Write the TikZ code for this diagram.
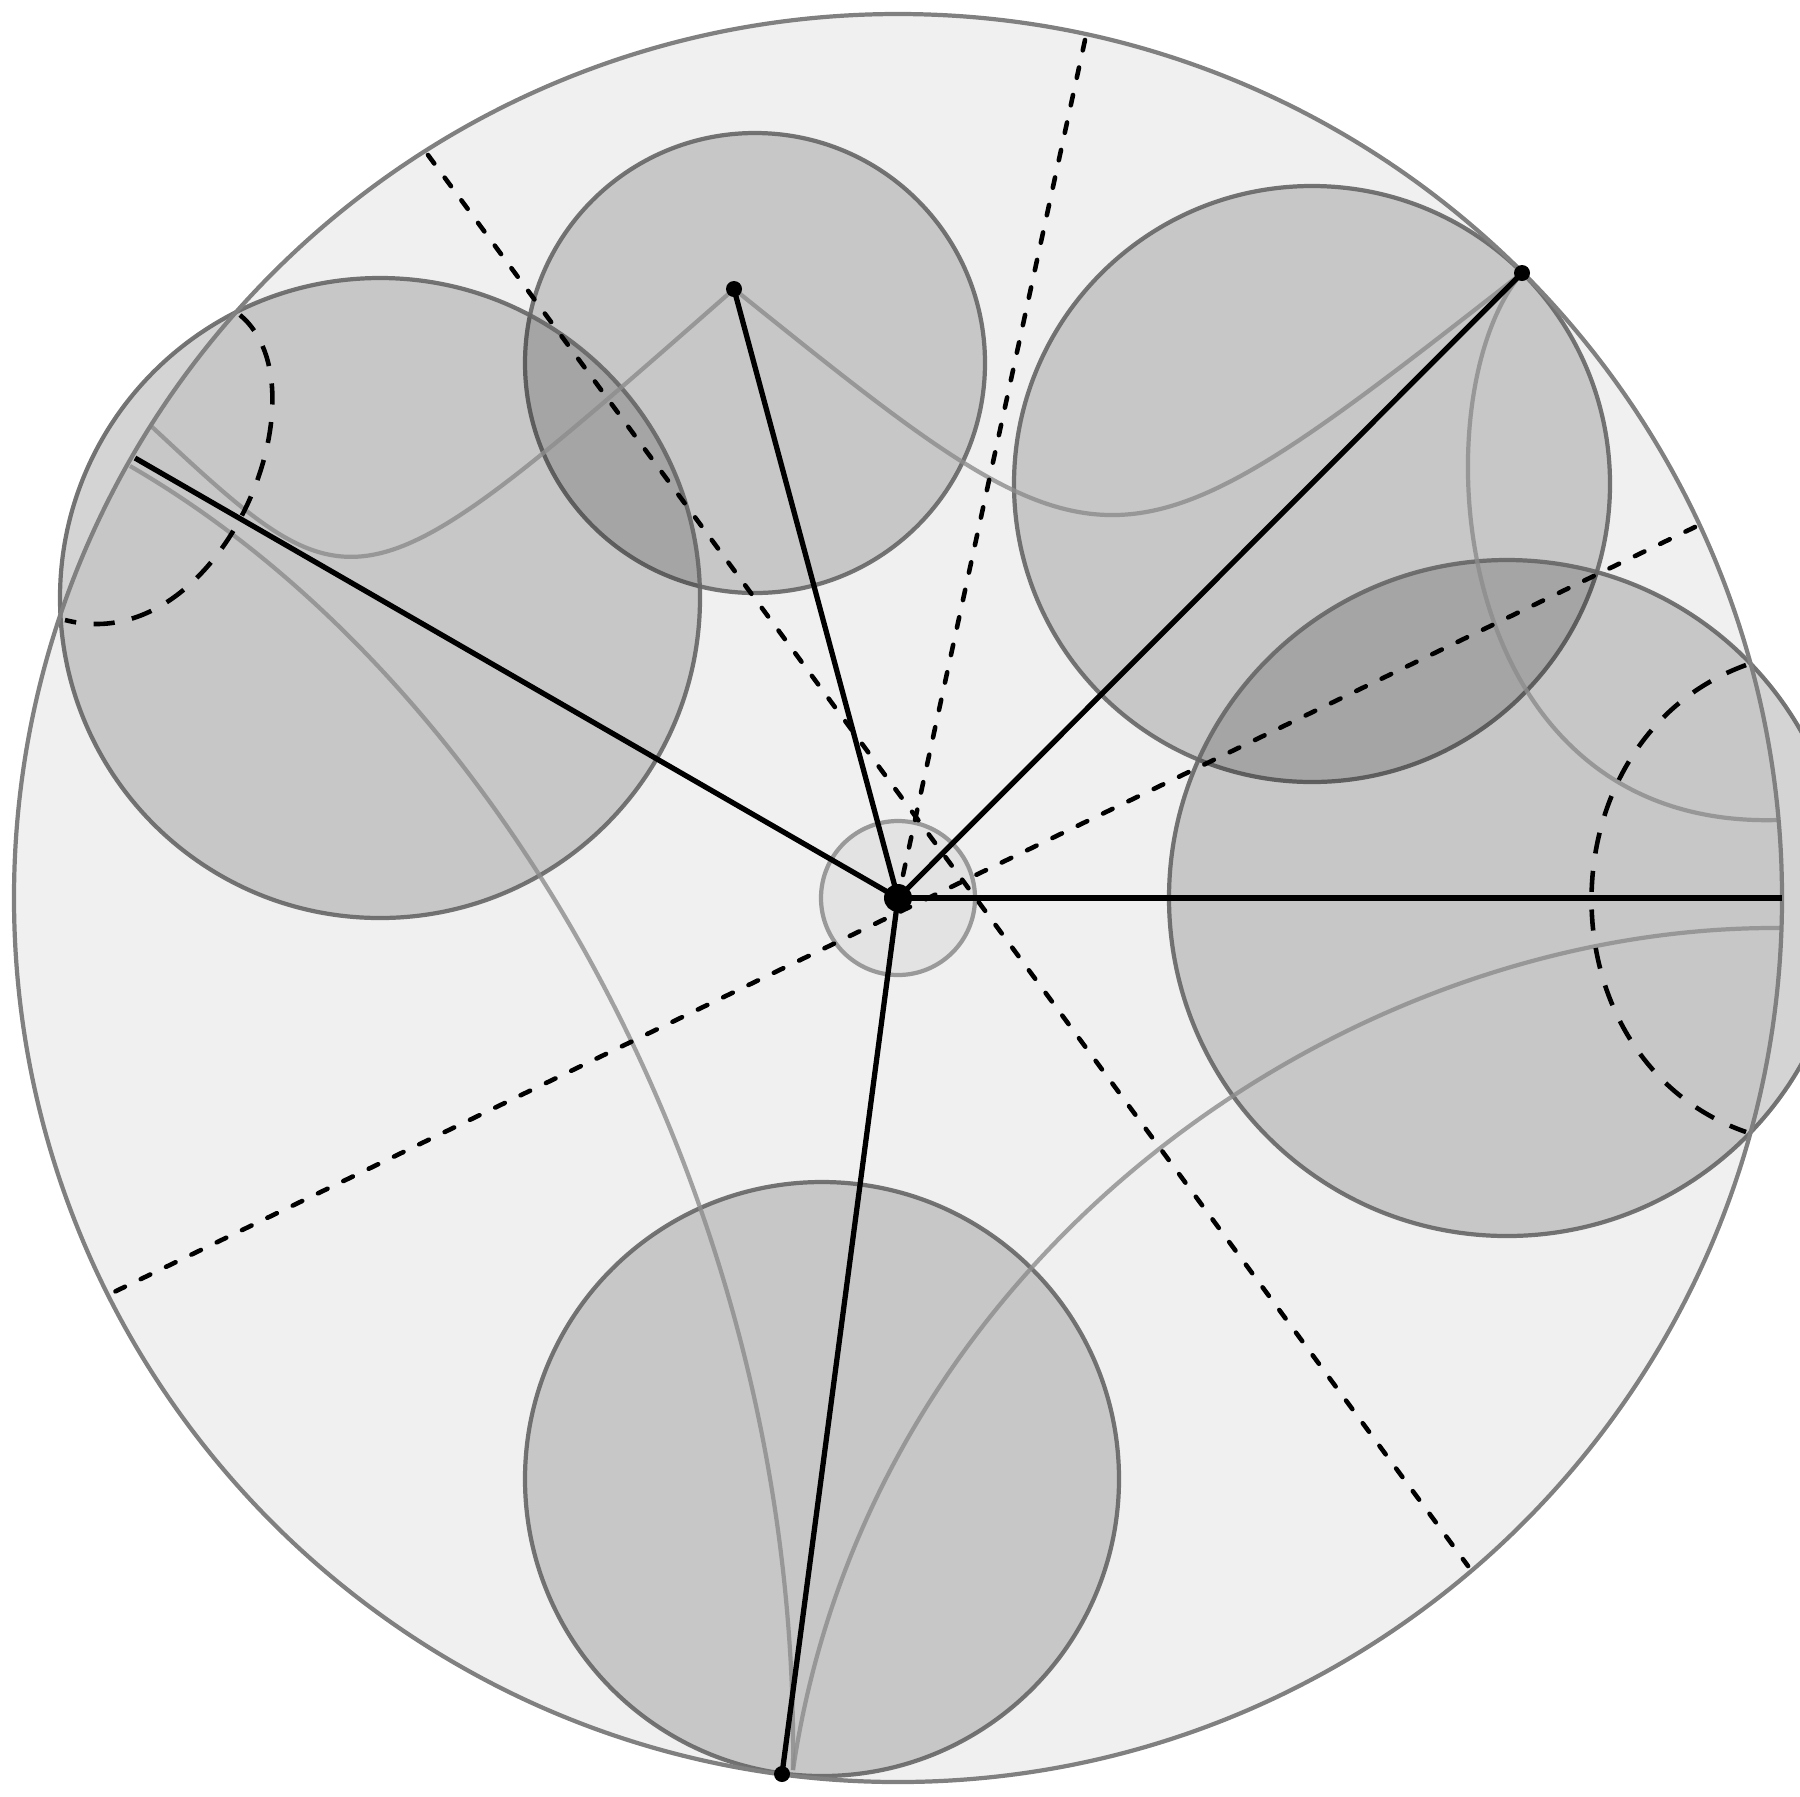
\documentclass[tikz,border=0pt]{standalone}
\begin{document}
\begin{tikzpicture}[x=0.01cm,y=-0.01cm,
  disk/.style={draw=black!50,line width=1.2pt},
  ball/.style={fill=black,fill opacity=0.17,draw=black!60,draw opacity=0.9,line width=1.2pt},
  geo/.style={draw=black!45,draw opacity=0.8,line width=1.2pt},
  rad/.style={line width=1.5pt},
  dots/.style={line width=1.3pt,dash pattern=on 3pt off 5pt,line cap=round},
  dsh/.style={line width=1.3pt,dash pattern=on 6pt off 5pt}]
\useasboundingbox (0,0) rectangle (1800,1796);
\coordinate (O) at (898,898);
\coordinate (E) at (1782,898);
\coordinate (P1) at (1522,273);
\coordinate (P2) at (734,289);
\coordinate (P3) at (135,458);
\coordinate (P4) at (782,1774);
\fill[black!6] (O) circle (884);
\draw[ball] (755,363) circle (230);
\draw[ball] (380,598) circle (320);
\draw[ball] (1312,484) circle (298);
\draw[ball] (1507,898) circle (338);
\draw[ball] (822,1479) circle (297);
\draw[geo] (150,425) .. controls (358,619) .. (P2);
\draw[geo] (P2) .. controls (1112,593) .. (P1);
\draw[geo] (P1) .. controls (1420,390) and (1440,830) .. (1778,820);
\draw[geo] (1780,928) .. controls (1350,925) and (870,1250) .. (793,1770);
\draw[geo] (130,466) .. controls (500,680) and (800,1200) .. (793,1770);
\draw[draw=black!40,line width=1.2pt,fill=black,fill opacity=0.05] (O) circle (77);
\draw[disk] (O) circle (884);
\draw[dots] (1085,40) -- (O);
\draw[dots] (428,155) -- (1468,1566);
\draw[dots] (1695,527) -- (112,1293);
\draw[dsh] (240,315) .. controls (330,390) and (220,660) .. (65,620);
\draw[dsh] (1746,665) .. controls (1540,740) and (1540,1060) .. (1746,1132);
\draw[rad] (O) -- (E);
\draw[rad] (O) -- (P1);
\draw[rad] (O) -- (P2);
\draw[rad] (O) -- (P3);
\draw[rad] (O) -- (P4);
\foreach \p in {P1,P2,P4} \fill (\p) circle (8);
\fill (O) circle (14);
\end{tikzpicture}
\end{document}
